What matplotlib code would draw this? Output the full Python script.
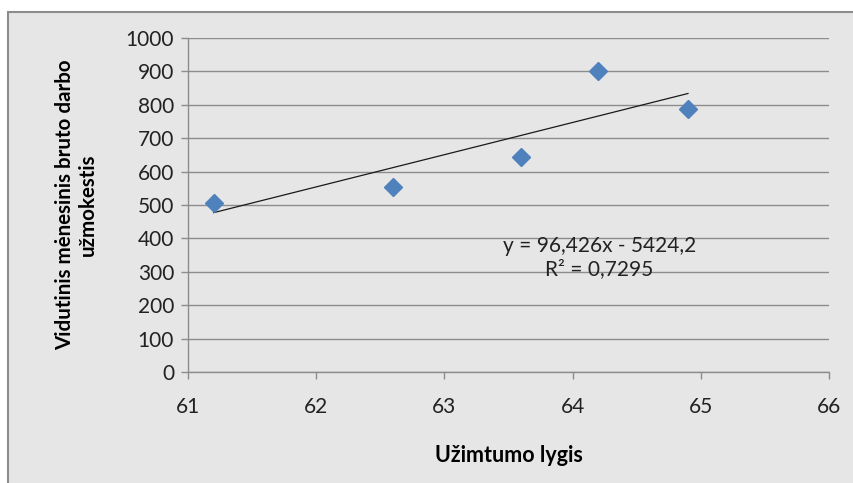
import numpy as np
import matplotlib.pyplot as plt
from matplotlib.patches import Rectangle

plt.rcParams['font.family'] = ['Lato', 'DejaVu Sans']

# employment rate vs average monthly gross wage
uzimtumas = [61.2, 62.6, 63.6, 64.2, 64.9]
alga = [507, 555, 645, 902, 787]

# trend line coefficients as printed on the chart
slope = 96.426
intercept = -5424.2
r2 = 0.7295

xticks = [61, 62, 63, 64, 65, 66]
yticks = list(range(0, 1001, 100))

bg = '#e6e6e6'
fig = plt.figure(figsize=(8.54, 4.83), dpi=100, facecolor='white')
fig.patches.append(Rectangle((8/854, -0.1), 1.1, 1 - 12/483 + 0.1, transform=fig.transFigure,
                             facecolor=bg, edgecolor='#8c8c8c', linewidth=1.5, zorder=-1))

ax = fig.add_axes([188/854, 1 - 372/483, 641/854, 334/483])
ax.set_facecolor(bg)
ax.patch.set_alpha(0)

ax.set_xlim(61, 66)
ax.set_ylim(0, 1000)
ax.set_xticks(xticks)
ax.set_yticks(yticks)
ax.grid(axis='y', color='#8c8c8c', linewidth=1)
ax.set_axisbelow(True)
for side in ['top', 'right']:
    ax.spines[side].set_visible(False)
for side in ['left', 'bottom']:
    ax.spines[side].set_color('#8c8c8c')
    ax.spines[side].set_linewidth(1)
ax.tick_params(axis='both', colors='#8c8c8c', labelcolor='#222222', labelsize=15,
               length=5, width=1)
ax.tick_params(axis='x', pad=13)
ax.tick_params(axis='y', pad=5)

ax.plot(uzimtumas, alga, linestyle='none', marker='D', markersize=9,
        color='#4f81bd', zorder=3)

xt = np.array([min(uzimtumas), max(uzimtumas)])
ax.plot(xt, slope * xt + intercept, color='#1a1a1a', linewidth=0.9, zorder=2)

eq = 'y = {}x - {}\nR² = {}'.format(str(slope).replace('.', ','),
                                     str(-intercept).replace('.', ','),
                                     str(r2).replace('.', ','))
ax.text(64.21, 342, eq, ha='center', va='center', fontsize=15, color='#222222',
        linespacing=1.2)

ax.set_xlabel('Užimtumo lygis', fontsize=15.5, fontweight='bold', labelpad=20)
ax.set_ylabel('Vidutinis mėnesinis bruto darbo\nužmokestis', fontsize=14.8,
              fontweight='bold', labelpad=20, linespacing=1.15)

fig.savefig('out.png', dpi=100, facecolor='white')
